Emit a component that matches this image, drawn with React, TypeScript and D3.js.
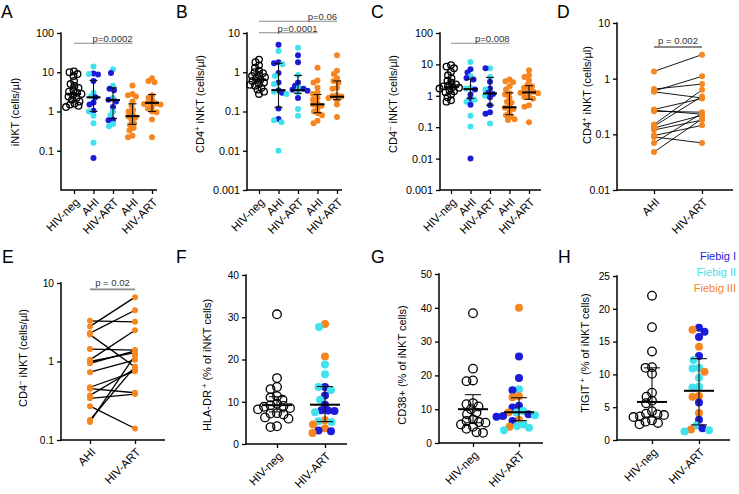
import React, { useEffect, useRef } from "react";
import * as d3 from "d3";

const BLUE = "#1b1bd9";
const CYAN = "#40e2ee";
const ORANGE = "#f6861f";
const FONT = "'Liberation Sans', Arial, sans-serif";

// category labels
const catsFive = ["HIV-neg", "AHI", "HIV-ART", "AHI", "HIV-ART"];
const catsPair = ["AHI", "HIV-ART"];
const catsTwo = ["HIV-neg", "HIV-ART"];

// A: iNKT (cells/µl)
const aNeg = [10.5, 10, 9, 8, 6, 5, 4.5, 4, 3.5, 3.2, 3, 2.8, 2.6, 2.4, 2.2, 2, 1.8, 1.6, 1.5, 1.4, 1.3];
const aAhiF1 = [9.3, 8.8, 6.0, 2.3, 1.7, 1.5, 1.05, 0.065];
const aAhiF2 = [14, 9.0, 3.0, 2.4, 1.0, 0.78, 0.5, 0.16];
const aArtF1 = [9.5, 3.8, 3.5, 2.0, 1.8, 1.3, 0.62, 0.6];
const aArtF2 = [12, 4.5, 2.2, 1.0, 0.8, 0.48, 0.42];
const aAhiF3 = [4.6, 2.8, 2.6, 2.4, 1.8, 1.4, 1.1, 1.0, 0.85, 0.75, 0.7, 0.62, 0.5, 0.45, 0.38, 0.33, 0.24, 0.22];
const aArtF3 = [7.0, 6.0, 5.6, 2.6, 2.2, 1.9, 1.7, 1.6, 1.55, 1.5, 1.35, 1.2, 1.0, 0.95, 0.63, 0.22];
// median, q1, q3 per category
const aStats = [[2.8, 1.8, 4.5], [2.3, 1.0, 6.2], [1.95, 0.66, 4.0], [0.76, 0.47, 1.57], [1.66, 1.0, 2.7]];

// B: CD4+ iNKT
const bNeg = [2.1, 1.8, 1.5, 1.3, 1.1, 1.0, 0.95, 0.85, 0.8, 0.75, 0.7, 0.65, 0.6, 0.55, 0.5, 0.48, 0.45, 0.4, 0.36, 0.32, 0.28];
const bAhiF1 = [5.0, 1.8, 1.7, 0.95, 0.55, 0.35, 0.3, 0.12, 0.064];
const bAhiF2 = [3.5, 1.6, 0.8, 0.5, 0.32, 0.28, 0.06, 0.053, 0.01];
const bArtF1 = [2.7, 1.8, 0.55, 0.45, 0.38, 0.36, 0.34, 0.22];
const bArtF2 = [4.2, 0.85, 0.4, 0.3, 0.115, 0.078];
const bAhiF3 = [1.3, 0.62, 0.55, 0.4, 0.3, 0.28, 0.22, 0.2, 0.16, 0.15, 0.14, 0.12, 0.1, 0.09, 0.08, 0.058, 0.05];
const bArtF3 = [2.7, 1.1, 0.9, 0.7, 0.6, 0.55, 0.4, 0.38, 0.26, 0.25, 0.24, 0.22, 0.2, 0.15, 0.072];
const bStats = [[0.65, 0.45, 1.0], [0.35, 0.128, 1.68], [0.35, 0.29, 0.83], [0.152, 0.093, 0.27], [0.238, 0.2, 0.6]];

// C: CD4- iNKT
const cNeg = [9.5, 8.5, 7.5, 5.8, 4.5, 3.6, 3.0, 2.6, 2.3, 2.1, 2.0, 1.9, 1.8, 1.7, 1.5, 1.4, 1.3, 1.1, 0.9, 0.72, 0.65];
const cAhiF1 = [7.0, 5.5, 3.7, 3.3, 1.6, 1.1, 0.8, 0.52, 0.01];
const cAhiF2 = [12, 4.2, 1.8, 1.7, 0.75, 0.65, 0.23, 0.105];
const cArtF1 = [7.5, 2.8, 1.7, 1.25, 1.15, 0.9, 0.5, 0.3, 0.27];
const cArtF2 = [7.6, 4.0, 1.6, 1.0, 0.13];
const cAhiF3 = [3.3, 2.9, 2.7, 2.0, 1.6, 1.2, 1.1, 0.85, 0.65, 0.6, 0.45, 0.42, 0.38, 0.3, 0.24, 0.22, 0.18, 0.17];
const cArtF3 = [6.5, 4.5, 4.0, 3.0, 2.2, 2.0, 1.8, 1.5, 1.35, 1.3, 1.25, 1.2, 0.95, 0.9, 0.8, 0.5, 0.45, 0.145];
const cStats = [[1.9, 1.3, 3.0], [1.63, 0.83, 3.4], [1.19, 0.5, 3.85], [0.43, 0.25, 1.25], [1.28, 0.77, 2.1]];

// D: paired CD4+ iNKT (AHI -> HIV-ART)
const dAhi = [1.35, 0.65, 0.6, 0.58, 0.28, 0.27, 0.26, 0.15, 0.14, 0.13, 0.12, 0.095, 0.09, 0.07, 0.048];
const dArt = [2.7, 0.8, 1.1, 0.45, 0.44, 0.23, 0.25, 0.63, 0.48, 0.22, 0.18, 0.145, 0.07, 0.24, 0.19];

// E: paired CD4- iNKT
const eAhi = [3.3, 2.8, 2.3, 2.2, 1.44, 1.05, 1.0, 0.95, 0.73, 0.47, 0.45, 0.37, 0.34, 0.27, 0.18, 0.17];
const eArt = [3.2, 6.6, 4.5, 0.85, 1.4, 2.5, 1.3, 1.37, 1.05, 0.75, 0.4, 0.81, 0.385, 0.14, 0.86, 1.2];

// F: HLA-DR+
const fNeg = [30.7, 15.6, 13.5, 13, 11.3, 11, 10.5, 9.5, 9.2, 9, 8.8, 8.5, 8.2, 7.3, 7.2, 7, 6.3, 6, 4.2, 4];
const fArtF1 = [13.5, 11.5, 9.3, 8.0, 7.9, 7.8, 3.2, 3.0];
const fArtF2 = [27.7, 18.8, 16.5, 13.5, 12.8, 10.5, 7.5, 5.4, 5.2];
const fArtF3 = [28.4, 20.7, 5.6, 4.6, 3.7, 2.6];
const fStats = [[9.2, 7.6, 11.2], [9.3, 5.3, 13.6]];

// G: CD38+
const gNeg = [38.4, 22, 18.5, 18.3, 11.8, 11.5, 10.8, 10, 9, 8.5, 7, 6.5, 6.2, 6.0, 5.5, 4.8, 4.2, 3.2, 3.0];
const gArtF1 = [25.6, 19.2, 15.6, 11, 10.5, 8.5, 8, 7.8, 6.5];
const gArtF2 = [15.9, 9.5, 9, 8.2, 5.5, 5, 4.5, 3.8];
const gArtF3 = [40, 13.8, 13.5, 9, 6.9, 4.8];
const gStats = [[10.0, 6.0, 14.3], [9.1, 6.6, 13.4]];

// H: TIGIT+
const hNeg = [22, 17.2, 13.5, 11.1, 11.0, 10.1, 7.2, 6.6, 6, 5.6, 4.4, 4.0, 3.9, 3.8, 3.6, 3.5, 3.0, 2.8, 2.6, 2.4];
const hArtF1 = [17.1, 16.5, 15.7, 12.8, 5.7, 3.1, 1.8];
const hArtF2 = [12.2, 11, 10.9, 9.5, 8.1, 8.0, 2.2, 1.5, 1.3];
const hArtF3 = [16.8, 14.2, 10.4, 6.7, 6.6, 4.1, 1.6];
const hStats = [[5.8, 3.5, 11.0], [7.5, 2.3, 12.4]];

const legendLabels = ["Fiebig I", "Fiebig II", "Fiebig III"];
const legendColors = [BLUE, CYAN, ORANGE];

const fmtTick = (d) => String(d);

// simple beeswarm so dots don't pile on top of each other
function swarm(items, cx, minDist) {
  const sorted = items.slice().sort((a, b) => a.py - b.py);
  const placed = [];
  sorted.forEach((p) => {
    let off = 0;
    for (let k = 0; k < 200; k++) {
      const o = (k % 2 === 0 ? 1 : -1) * Math.ceil(k / 2) * 0.5;
      const ok = placed.every((q) => (q.px - (cx + o)) ** 2 + (q.py - p.py) ** 2 >= minDist * minDist);
      if (ok) { off = o; break; }
    }
    placed.push({ ...p, px: cx + off });
  });
  return placed;
}

function drawFrame(g, cfg) {
  const y = (cfg.log ? d3.scaleLog() : d3.scaleLinear()).domain(cfg.domain).range([cfg.bottom, cfg.top]);
  const x = d3.scalePoint().domain(d3.range(cfg.cats.length)).range(cfg.catRange);

  // letter
  g.append("text").attr("x", cfg.lx).attr("y", cfg.ly)
    .style("font-size", "17.5px").text(cfg.letter);

  // y axis
  const ya = g.append("g").attr("transform", `translate(${cfg.left},0)`)
    .call(d3.axisLeft(y).tickValues(cfg.ticks).tickSize(4).tickSizeOuter(0).tickFormat(fmtTick));
  ya.select(".domain").remove();
  ya.selectAll("line").attr("stroke-width", 1.3);
  ya.selectAll("text").attr("x", -7).style("font-size", `${cfg.tickFont}px`).style("font-family", FONT);
  g.append("line").attr("x1", cfg.left).attr("x2", cfg.left).attr("y1", cfg.top - 0.7).attr("y2", cfg.bottom + 0.7)
    .attr("stroke", "black").attr("stroke-width", 1.5);

  // x axis
  const xa = g.append("g").attr("transform", `translate(0,${cfg.bottom})`)
    .call(d3.axisBottom(x).tickSize(4).tickFormat((i) => cfg.cats[i]));
  xa.select(".domain").remove();
  xa.selectAll("line").attr("stroke-width", 1.3);
  xa.selectAll("text")
    .attr("x", 0).attr("y", 0).attr("dy", "0.35em")
    .attr("transform", "translate(3,10) rotate(-45)")
    .style("text-anchor", "end").style("font-size", "11.5px").style("font-family", FONT);
  g.append("line").attr("x1", cfg.left).attr("x2", cfg.right).attr("y1", cfg.bottom).attr("y2", cfg.bottom)
    .attr("stroke", "black").attr("stroke-width", 1.5);

  // y label
  const t = g.append("text")
    .attr("transform", `translate(${cfg.ylx},${cfg.yly}) rotate(-90)`)
    .attr("text-anchor", "middle").style("font-size", "11px");
  cfg.yLabel.forEach((p) => {
    const s = t.append("tspan").text(p.t);
    if (p.sup) s.attr("baseline-shift", "super").style("font-size", "7.5px");
  });

  // significance bars
  (cfg.sig || []).forEach((s) => {
    const x1 = x(s.a), x2 = x(s.b);
    g.append("line").attr("x1", x1).attr("x2", x2).attr("y1", s.y).attr("y2", s.y)
      .attr("stroke", "#8a8a8a").attr("stroke-width", s.center ? 1.8 : 1.1);
    g.append("text")
      .attr("x", s.center ? (x1 + x2) / 2 : x2).attr("y", s.y - (s.center ? 3 : 1.2))
      .attr("text-anchor", s.center ? "middle" : "end")
      .style("font-size", "9.5px").attr("fill", "#333").text(s.label);
  });
  return { x, y };
}

function drawScatter(g, cfg) {
  const { x, y } = drawFrame(g, cfg);
  cfg.groups.forEach((grp, gi) => {
    const items = [];
    grp.forEach((s) => s.vals.forEach((v) => items.push({ py: y(v), color: s.color, open: s.open })));
    const pts = swarm(items, x(gi), cfg.r * cfg.spread);
    pts.forEach((p) => {
      g.append("circle").attr("cx", p.px).attr("cy", p.py)
        .attr("r", p.open ? cfg.r + 0.3 : cfg.r)
        .attr("fill", p.open ? "none" : p.color)
        .attr("stroke", p.open ? "black" : "none")
        .attr("stroke-width", p.open ? 1.3 : 0);
    });
  });
  // median + IQR bars
  cfg.stats.forEach(([med, q1, q3], i) => {
    const cx = x(i);
    g.append("line").attr("x1", cx).attr("x2", cx).attr("y1", y(q1)).attr("y2", y(q3))
      .attr("stroke", "#111").attr("stroke-width", 1.1);
    [q1, q3].forEach((q) => {
      g.append("line").attr("x1", cx - cfg.capHalf).attr("x2", cx + cfg.capHalf)
        .attr("y1", y(q)).attr("y2", y(q)).attr("stroke", "#111").attr("stroke-width", 1.1);
    });
    g.append("line").attr("x1", cx - cfg.barHalf).attr("x2", cx + cfg.barHalf)
      .attr("y1", y(med)).attr("y2", y(med)).attr("stroke", "black").attr("stroke-width", 2);
  });
}

function drawPaired(g, cfg) {
  const { x, y } = drawFrame(g, cfg);
  cfg.before.forEach((v, i) => {
    g.append("line").attr("x1", x(0)).attr("x2", x(1))
      .attr("y1", y(v)).attr("y2", y(cfg.after[i]))
      .attr("stroke", "black").attr("stroke-width", cfg.lw);
  });
  [cfg.before, cfg.after].forEach((vals, ci) => {
    vals.forEach((v) => {
      g.append("circle").attr("cx", x(ci)).attr("cy", y(v)).attr("r", cfg.r).attr("fill", ORANGE);
    });
  });
}

const topFive = (neg, ahi1, ahi2, art1, art2, ahi3, art3) => [
  [{ vals: neg, color: "black", open: true }],
  [{ vals: ahi1, color: BLUE }, { vals: ahi2, color: CYAN }],
  [{ vals: art1, color: BLUE }, { vals: art2, color: CYAN }],
  [{ vals: ahi3, color: ORANGE }],
  [{ vals: art3, color: ORANGE }],
];

const bottomTwo = (neg, f1, f2, f3) => [
  [{ vals: neg, color: "black", open: true }],
  [{ vals: f1, color: BLUE }, { vals: f2, color: CYAN }, { vals: f3, color: ORANGE }],
];

const App = () => {
  const ref = useRef(null);

  useEffect(() => {
    const svg = d3.select(ref.current);
    svg.selectAll("*").remove();
    svg.style("font-family", FONT);

    const top = { log: true, top: 33, bottom: 190, cats: catsFive, r: 3, barHalf: 7, capHalf: 4, spread: 1.45, tickFont: 10.8 };

    drawScatter(svg.append("g"), {
      ...top, letter: "A", lx: 1, ly: 18, left: 61, right: 157,
      domain: [0.01, 100], ticks: [0.1, 1, 10, 100], catRange: [74, 152],
      groups: topFive(aNeg, aAhiF1, aAhiF2, aArtF1, aArtF2, aAhiF3, aArtF3), stats: aStats,
      sig: [{ a: 0, b: 3, y: 43.3, label: "p=0.0002" }],
      yLabel: [{ t: "iNKT (cells/µl)" }], ylx: 19, yly: 112,
    });

    drawScatter(svg.append("g"), {
      ...top, letter: "B", lx: 176, ly: 18, left: 247, right: 342,
      domain: [0.001, 10], ticks: [0.001, 0.01, 0.1, 1, 10], catRange: [259, 337],
      groups: topFive(bNeg, bAhiF1, bAhiF2, bArtF1, bArtF2, bAhiF3, bArtF3), stats: bStats,
      sig: [{ a: 0, b: 3, y: 32.7, label: "p=0.0001" }, { a: 0, b: 4, y: 21.3, label: "p=0.06" }],
      yLabel: [{ t: "CD4" }, { t: "+", sup: true }, { t: " iNKT (cells/µl)" }], ylx: 204, yly: 104,
    });

    drawScatter(svg.append("g"), {
      ...top, letter: "C", lx: 371, ly: 18, left: 440, right: 541,
      domain: [0.001, 100], ticks: [0.001, 0.01, 0.1, 1, 10, 100], catRange: [451, 529],
      groups: topFive(cNeg, cAhiF1, cAhiF2, cArtF1, cArtF2, cAhiF3, cArtF3), stats: cStats,
      sig: [{ a: 0, b: 3, y: 43.3, label: "p=0.008" }],
      yLabel: [{ t: "CD4" }, { t: "−", sup: true }, { t: " iNKT (cells/µl)" }], ylx: 397, yly: 104,
    });

    drawPaired(svg.append("g"), {
      letter: "D", lx: 557, ly: 18, log: true, top: 23, bottom: 190, left: 617, right: 733,
      domain: [0.01, 10], ticks: [0.01, 0.1, 1, 10], cats: catsPair, catRange: [654, 702],
      before: dAhi, after: dArt, r: 3, lw: 0.9, tickFont: 10.5,
      sig: [{ a: 0, b: 1, y: 47, label: "p = 0.002", center: true }],
      yLabel: [{ t: "CD4" }, { t: "+", sup: true }, { t: " iNKT (cells/µl)" }], ylx: 591, yly: 95,
    });

    drawPaired(svg.append("g"), {
      letter: "E", lx: 2, ly: 263, log: true, top: 283, bottom: 440, left: 61, right: 165,
      domain: [0.1, 10], ticks: [0.1, 1, 10], cats: catsPair, catRange: [90, 135],
      before: eAhi, after: eArt, r: 3, lw: 1.3, tickFont: 10.2,
      sig: [{ a: 0, b: 1, y: 289.3, label: "p = 0.02", center: true }],
      yLabel: [{ t: "CD4" }, { t: "−", sup: true }, { t: " iNKT (cells/µl)" }], ylx: 27, yly: 358,
    });

    const bot = { log: false, cats: catsTwo, r: 4, barHalf: 15, capHalf: 8, spread: 1.6, tickFont: 10.2 };

    drawScatter(svg.append("g"), {
      ...bot, letter: "F", lx: 176, ly: 263, top: 275, bottom: 444, left: 246, right: 347,
      domain: [0, 40], ticks: [0, 10, 20, 30, 40], catRange: [277, 325],
      groups: bottomTwo(fNeg, fArtF1, fArtF2, fArtF3), stats: fStats,
      yLabel: [{ t: "HLA-DR" }, { t: " +", sup: true }, { t: " (% of iNKT cells)" }], ylx: 211, yly: 365,
    });

    drawScatter(svg.append("g"), {
      ...bot, letter: "G", lx: 371, ly: 263, top: 274, bottom: 443, left: 439, right: 543,
      domain: [0, 50], ticks: [0, 10, 20, 30, 40, 50], catRange: [473, 519],
      groups: bottomTwo(gNeg, gArtF1, gArtF2, gArtF3), stats: gStats,
      yLabel: [{ t: "CD38+ (% of iNKT cells)" }], ylx: 406, yly: 365,
    });

    drawScatter(svg.append("g"), {
      ...bot, letter: "H", lx: 558, ly: 263, top: 276, bottom: 440, left: 617, right: 730,
      domain: [0, 25], ticks: [0, 5, 10, 15, 20, 25], catRange: [652, 699],
      groups: bottomTwo(hNeg, hArtF1, hArtF2, hArtF3), stats: hStats,
      yLabel: [{ t: "TIGIT" }, { t: " +", sup: true }, { t: "  (% of iNKT cells)" }], ylx: 589, yly: 353,
    });

    // legend
    svg.append("g").selectAll("text").data(legendLabels).enter().append("text")
      .attr("x", 736).attr("y", (d, i) => 260 + i * 16)
      .attr("text-anchor", "end").style("font-size", "11px")
      .attr("fill", (d, i) => legendColors[i]).text((d) => d);
  }, []);

  return (
    <svg ref={ref} width={739} height={494}
      style={{ position: "absolute", left: 0, top: 0, background: "white" }} />
  );
};

export default App;
